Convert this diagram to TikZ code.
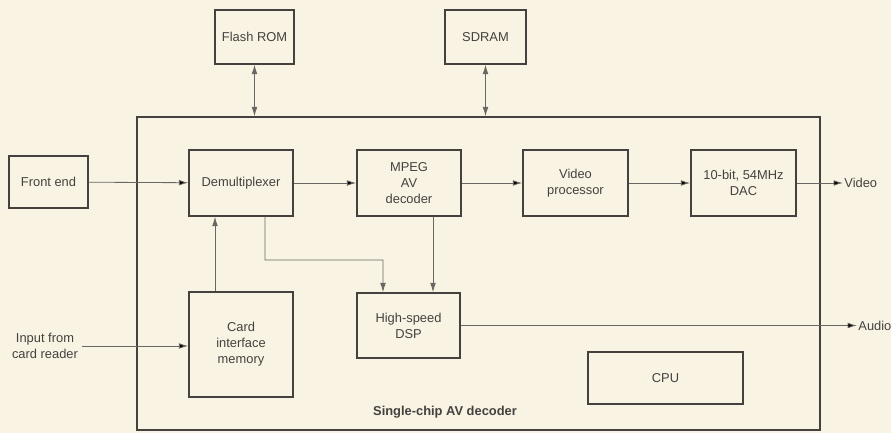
\documentclass[tikz,border=0pt]{standalone}
\usepackage{fontspec}
\setmainfont{Liberation Sans}
\usepackage{xcolor}
\usepackage{tikz}
\usetikzlibrary{arrows.meta, positioning}

\definecolor{paper}{HTML}{F8F3E3}
\definecolor{boxline}{HTML}{46413F}
\definecolor{wire}{HTML}{6A6663}

\begin{document}
\begin{tikzpicture}[x=0.03cm, y=-0.03cm, >={Latex[length=2.8mm,width=1.7mm]},
        font=\fontsize{11}{13.6}\selectfont, text=boxline,
        block/.style={draw=boxline, line width=1.2pt, align=center, inner sep=2pt},
        wire/.style={draw=wire, line width=0.7pt}]
        \useasboundingbox (0,0) rectangle (891,433);
        \fill[paper] (0,0) rectangle (891,433);

        % chip outline
        \node[block, minimum width=20.49cm, minimum height=9.39cm] (chip) at (478.5,273.5) {};
        \node[font=\fontsize{11}{13.6}\selectfont\bfseries] (chipname) at (445,412) {Single-chip AV decoder};

        % memories outside the chip
        \node[block, minimum width=2.37cm, minimum height=1.62cm] (flash) at (254.5,37) {Flash ROM};
        \node[block, minimum width=2.43cm, minimum height=1.62cm] (sdram) at (485.5,37) {SDRAM};
        \node[block, minimum width=2.37cm, minimum height=1.56cm] (front) at (48.5,182) {Front end};

        % main video path
        \node[block, minimum width=3.12cm, minimum height=1.98cm] (demux) at (241,183) {Demultiplexer};
        \node[block, minimum width=3.12cm, minimum height=1.98cm] (mpeg) at (409,183) {MPEG\\AV\\decoder};
        \node[block, minimum width=3.15cm, minimum height=1.98cm] (vproc) at (575.5,183) {Video\\processor};
        \node[block, minimum width=3.15cm, minimum height=1.98cm] (dac) at (743.5,183) {10-bit, 54MHz\\DAC};

        % lower row
        \node[block, minimum width=3.12cm, minimum height=3.15cm] (card) at (241,344.5) {Card\\interface\\memory};
        \node[block, minimum width=3.09cm, minimum height=1.95cm] (dsp) at (408.5,325.5) {High-speed\\DSP};
        \node[block, minimum width=4.65cm, minimum height=1.56cm] (cpu) at (665.5,378) {CPU};

        \node[align=center] (input) at (45,346) {Input from\\card reader};
        \node[anchor=west, inner sep=1pt] (videoout) at (843,183) {Video};
        \node[anchor=west, inner sep=1pt] (audioout) at (857,326) {Audio};

        \path[wire]
        (front) edge[->] (demux)
        (demux) edge[->] (mpeg)
        (mpeg) edge[->] (vproc)
        (vproc) edge[->] (dac)
        (dac) edge[->] (videoout)
        (dsp.east) edge[->] (dsp.east -| audioout.west)
        (input.east) edge[->] (input.east -| card.west);

        \draw[wire, ->] ([xshift=-0.78cm]card.north) -- ([xshift=-0.78cm]demux.south);
        \draw[wire, ->] ([xshift=0.72cm]mpeg.south) -- ([xshift=0.735cm]dsp.north);
        \draw[wire, ->] ([xshift=0.72cm]demux.south) |- (383,260) -- ([xshift=-0.765cm]dsp.north);

        \draw[wire, <->] (flash.south) -- (flash.south |- chip.north);
        \draw[wire, <->] (sdram.south) -- (sdram.south |- chip.north);
\end{tikzpicture}
\end{document}
